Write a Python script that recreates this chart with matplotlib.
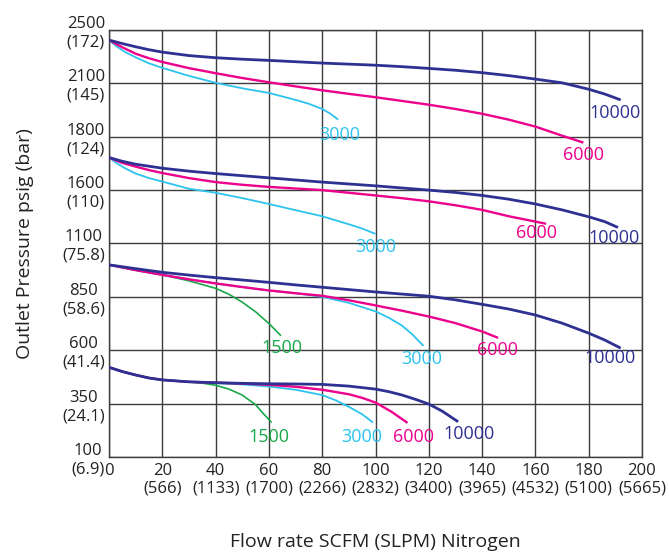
# Outlet pressure vs flow rate (regulator flow curves)

import numpy as np
import matplotlib
matplotlib.use('Agg')
import matplotlib.pyplot as plt

plt.rcParams['font.family'] = ['Open Sans', 'DejaVu Sans']

# y axis: equally spaced gridlines, non-linear pressure values
psig_ticks = [100, 350, 600, 850, 1100, 1600, 1800, 2100, 2500]
bar_ticks = ['6.9', '24.1', '41.4', '58.6', '75.8', '110', '124', '145', '172']
x_ticks = [0, 20, 40, 60, 80, 100, 120, 140, 160, 180, 200]
slpm_ticks = ['', '566', '1133', '1700', '2266', '2832', '3400', '3965', '4532', '5100', '5665']

colors = {'1500': '#1aa84a', '3000': '#2cc3ee', '6000': '#ec008c', '10000': '#2e3192'}
widths = {'1500': 1.2, '3000': 1.3, '6000': 1.7, '10000': 2.0}

# group 1 (top)
g1_10000_x = [0, 5, 10, 15, 20, 30, 40, 50, 60, 70, 80, 90, 100, 110, 120, 130, 140, 150, 160, 170, 180, 186, 192]
g1_10000_y = [2424, 2398, 2374, 2352, 2334, 2308, 2292, 2281, 2272, 2262, 2252, 2244, 2236, 2225, 2212, 2198,
              2180, 2158, 2132, 2104, 2067, 2040, 2007]
g1_6000_x = [0, 5, 10, 15, 20, 30, 40, 50, 60, 70, 80, 90, 100, 110, 120, 130, 140, 150, 160, 170, 178]
g1_6000_y = [2424, 2370, 2322, 2288, 2260, 2214, 2176, 2140, 2108, 2083, 2061, 2041, 2022, 2001, 1980, 1956,
             1929, 1896, 1857, 1806, 1778]
g1_3000_x = [0, 3, 6, 10, 15, 20, 30, 40, 50, 60, 70, 75, 80, 83, 86]
g1_3000_y = [2424, 2375, 2335, 2295, 2250, 2216, 2156, 2104, 2072, 2046, 2007, 1985, 1956, 1930, 1896]

# group 2
g2_10000_x = [0, 5, 10, 20, 30, 40, 50, 60, 70, 80, 90, 100, 110, 120, 130, 140, 150, 160, 170, 180, 186, 191]
g2_10000_y = [1722, 1708, 1697, 1682, 1671, 1662, 1654, 1646, 1638, 1630, 1623, 1616, 1608, 1600, 1578, 1550,
              1515, 1470, 1415, 1350, 1305, 1250]
g2_6000_x = [0, 5, 10, 15, 20, 30, 40, 50, 60, 70, 80, 90, 100, 110, 120, 130, 140, 150, 157, 164]
g2_6000_y = [1722, 1702, 1688, 1675, 1664, 1645, 1630, 1620, 1612, 1606, 1600, 1575, 1550, 1524, 1495, 1458,
             1415, 1355, 1320, 1285]
g2_3000_x = [0, 3, 6, 10, 15, 20, 30, 40, 50, 60, 70, 80, 90, 95, 100]
g2_3000_y = [1722, 1700, 1682, 1662, 1645, 1632, 1605, 1575, 1525, 1470, 1412, 1355, 1280, 1240, 1190]

# group 3
g3_10000_x = [0, 10, 20, 30, 40, 50, 60, 70, 80, 90, 100, 110, 120, 130, 140, 150, 160, 170, 180, 186, 192]
g3_10000_y = [1000, 982, 965, 952, 940, 929, 918, 906, 895, 884, 873, 863, 853, 836, 815, 793, 765, 727, 680,
              648, 610]
g3_6000_x = [0, 10, 20, 30, 40, 50, 60, 70, 80, 90, 100, 110, 120, 130, 140, 146]
g3_6000_y = [1000, 975, 953, 932, 913, 896, 880, 867, 855, 834, 810, 785, 758, 727, 688, 658]
g3_3000_x = [0, 10, 20, 30, 40, 50, 60, 70, 80, 90, 100, 105, 110, 114, 118]
g3_3000_y = [1000, 975, 953, 932, 913, 896, 880, 867, 850, 822, 782, 752, 715, 672, 620]
g3_1500_x = [0, 10, 20, 30, 40, 45, 50, 55, 60, 62, 64.5]
g3_1500_y = [1000, 975, 953, 925, 890, 862, 825, 780, 725, 700, 668]

# group 4 (bottom)
g4_10000_x = [0, 5, 10, 15, 20, 30, 40, 50, 60, 70, 80, 90, 100, 105, 110, 115, 120, 125, 131]
g4_10000_y = [520, 500, 484, 470, 461, 452, 448, 445, 443, 442, 440, 432, 418, 406, 390, 370, 348, 315, 265]
g4_6000_x = [0, 5, 10, 15, 20, 30, 40, 50, 60, 70, 80, 90, 95, 100, 106, 112]
g4_6000_y = [520, 500, 484, 470, 461, 452, 448, 444, 438, 429, 415, 394, 377, 355, 312, 260]
g4_3000_x = [0, 5, 10, 15, 20, 30, 40, 50, 60, 70, 80, 85, 90, 95, 99]
g4_3000_y = [520, 500, 484, 470, 461, 452, 446, 440, 430, 415, 390, 366, 335, 300, 262]
g4_1500_x = [0, 5, 10, 15, 20, 30, 35, 40, 45, 50, 55, 58, 61]
g4_1500_y = [520, 500, 484, 470, 461, 452, 446, 436, 418, 390, 345, 302, 262]

curves = [
    ('3000', g1_3000_x, g1_3000_y, (86.7, 1812)),
    ('6000', g1_6000_x, g1_6000_y, (178.2, 1730)),
    ('10000', g1_10000_x, g1_10000_y, (190, 1932)),
    ('3000', g2_3000_x, g2_3000_y, (100.2, 1085)),
    ('6000', g2_6000_x, g2_6000_y, (160.6, 1200)),
    ('10000', g2_10000_x, g2_10000_y, (189.5, 1155)),
    ('1500', g3_1500_x, g3_1500_y, (64.9, 612)),
    ('3000', g3_3000_x, g3_3000_y, (117.4, 560)),
    ('6000', g3_6000_x, g3_6000_y, (145.6, 602)),
    ('10000', g3_10000_x, g3_10000_y, (188, 565)),
    ('1500', g4_1500_x, g4_1500_y, (60, 194)),
    ('3000', g4_3000_x, g4_3000_y, (95, 194)),
    ('6000', g4_6000_x, g4_6000_y, (114.4, 194)),
    ('10000', g4_10000_x, g4_10000_y, (135, 208)),
]

pos = np.arange(len(psig_ticks))


def forward(v):
    return np.interp(v, psig_ticks, pos)


def inverse(v):
    return np.interp(v, pos, psig_ticks)


fig = plt.figure(figsize=(6.69, 5.53), dpi=100)
ax = fig.add_axes([0.163, 0.1736, 0.7966, 0.7722])
ax.set_yscale('function', functions=(forward, inverse))

for name, xs, ys, lab in curves:
    ax.plot(xs, ys, color=colors[name], linewidth=widths[name], solid_capstyle='butt',
            solid_joinstyle='round', zorder=3)
    ax.text(lab[0], lab[1], name, color=colors[name], fontsize=13, ha='center', va='center', zorder=4)

ax.set_xlim(0, 200)
ax.set_ylim(100, 2500)
ax.set_xticks(x_ticks)
ax.set_xticklabels([str(x) if s == '' else f'{x}\n({s})' for x, s in zip(x_ticks, slpm_ticks)])
ax.set_yticks(psig_ticks)
ax.set_yticklabels([f'{p}\n({b})' for p, b in zip(psig_ticks, bar_ticks)])
for lbl in ax.get_yticklabels():
    lbl.set_multialignment('center')
ax.minorticks_off()
ax.tick_params(length=0, labelsize=12, colors='#222222', pad=4)
ax.tick_params(axis='y', pad=3)

ax.grid(True, color='#3c3c3c', linewidth=1.0)
ax.set_axisbelow(True)
for sp in ax.spines.values():
    sp.set_color('#3c3c3c')
    sp.set_linewidth(1.0)

ax.set_xlabel('Flow rate SCFM (SLPM) Nitrogen', fontsize=14, color='#222222', labelpad=26)
ax.set_ylabel('Outlet Pressure psig (bar)', fontsize=14, color='#222222', labelpad=20)

fig.savefig('out.png', dpi=100)
